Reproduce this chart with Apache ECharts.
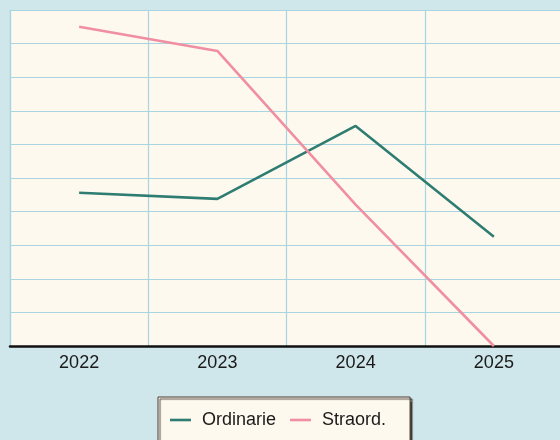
<!DOCTYPE html>
<html>
<head>
<meta charset="utf-8">
<script src="https://cdn.jsdelivr.net/npm/echarts@6/dist/echarts.min.js"></script>
<style>
  html, body { margin: 0; padding: 0; background: #cfe6eb; }
  #chart { width: 560px; height: 440px; }
</style>
</head>
<body>
<div id="chart"></div>
<script>
// Years on the horizontal axis
const years = ['2022', '2023', '2024', '2025'];
// Series values
const ordinarie = [4.56, 4.38, 6.55, 3.25];
const straordinarie = [9.5, 8.78, 4.21, 0];
const seriesNames = ['Ordinarie', 'Straord.'];

const chart = echarts.init(document.getElementById('chart'), null, { renderer: 'canvas' });

chart.setOption({
  backgroundColor: '#cfe6eb',
  animation: false,
  grid: {
    left: 10, width: 553, top: 10, bottom: 94,
    outerBoundsMode: 'none',
    containLabel: false,
    show: true,
    backgroundColor: '#fdf9ee',
    borderWidth: 0
  },
  legend: {
    data: seriesNames,
    icon: 'rect',
    left: 158, top: 397,
    padding: [14, 24, 20, 12],
    itemWidth: 21, itemHeight: 2.6, itemGap: 14,
    backgroundColor: '#fdf9ee',
    borderColor: '#4a3b30', borderWidth: 1,
    shadowColor: 'rgba(40,30,20,0.8)', shadowOffsetX: 2, shadowOffsetY: 2, shadowBlur: 1,
    textStyle: { fontFamily: 'Liberation Sans', fontSize: 18, color: '#1a1a1a', padding: [0, 0, 0, 6] }
  },
  xAxis: {
    type: 'category',
    data: years,
    boundaryGap: true,
    axisLine: { show: true, lineStyle: { color: '#111', width: 2.5 } },
    axisTick: { show: false },
    axisLabel: { fontFamily: 'Liberation Sans', fontSize: 18, color: '#1a1a1a', margin: 8 },
    splitLine: { show: true, lineStyle: { color: '#a9d4e2', width: 1.2 } }
  },
  yAxis: {
    type: 'value',
    min: 0, max: 10, interval: 1,
    axisLine: { show: true, lineStyle: { color: '#a9d4e2', width: 1.2 } },
    axisTick: { show: false },
    axisLabel: { show: false },
    splitLine: { show: true, lineStyle: { color: '#a9d4e2', width: 1.2 } }
  },
  series: [
    {
      name: seriesNames[0], type: 'line', data: ordinarie,
      symbol: 'none', color: '#2f7d72',
      lineStyle: { width: 2.6, color: '#2f7d72' }
    },
    {
      name: seriesNames[1], type: 'line', data: straordinarie,
      symbol: 'none', color: '#f08ea2',
      lineStyle: { width: 2.6, color: '#f08ea2' }
    }
  ]
});
</script>
</body>
</html>
